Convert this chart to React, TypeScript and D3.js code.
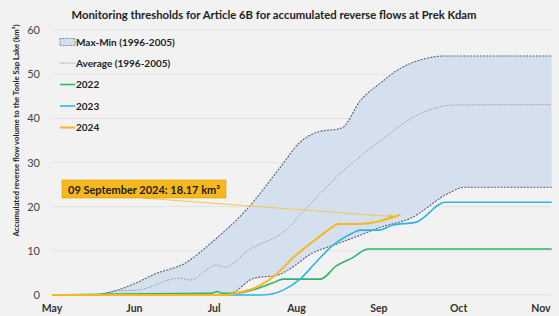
import * as d3 from 'd3';

// accumulated reverse flow (km3)
const parse = d3.timeParse('%Y-%m-%d');

const maxDates = ['05-01', '05-16', '05-25', '05-31', '06-09', '06-20', '07-01', '07-13', '07-26', '08-02', '08-09', '08-18', '08-25', '09-02', '09-08', '09-10', '09-19', '09-25', '11-05'];
const maxVals = [0, 0, 1.0, 2.3, 4.8, 7.2, 12.4, 19.2, 29, 34.4, 36.9, 37.8, 44, 48.2, 50.9, 51.6, 53.6, 54.1, 54.1];

const minDates = ['05-01', '07-05', '07-08', '07-16', '07-25', '07-29', '08-07', '08-15', '08-27', '09-01', '09-13', '09-28', '10-03', '11-05'];
const minVals = [0, 0, 0.5, 3.8, 4.5, 5.7, 9.5, 11.3, 14, 15.2, 17.4, 23.3, 24.4, 24.4];

const avgDates = ['05-01', '05-16', '05-25', '06-02', '06-18', '06-22', '07-02', '07-05', '07-14', '07-28', '08-04', '08-16', '08-28', '09-05', '09-14', '09-20', '09-29', '11-05'];
const avgVals = [0, 0, 0.9, 1.1, 3.8, 3.4, 6.8, 6.3, 10.2, 14.7, 19.2, 26.7, 32.8, 36.5, 40.3, 41.9, 43.0, 43.1];

const y2022Dates = ['05-01', '05-25', '06-30', '07-02', '07-04', '07-09', '07-23', '07-27', '08-10', '08-16', '08-22', '08-28', '11-05'];
const y2022Vals = [0, 0.2, 0.4, 0.8, 0.4, 0.4, 2.7, 3.6, 3.6, 6.6, 8.4, 10.4, 10.4];

const y2023Dates = ['05-01', '07-19', '07-27', '08-02', '08-08', '08-14', '08-22', '08-25', '09-01', '09-06', '09-15', '09-26', '11-05'];
const y2023Vals = [0, 0, 1.1, 3.4, 7.2, 10.9, 14, 14.7, 14.7, 15.8, 16.5, 21, 21];

const y2024Dates = ['05-01', '07-05', '07-09', '07-17', '07-25', '07-31', '08-07', '08-12', '08-17', '08-25', '09-09'];
const y2024Vals = [0, 0, 0.4, 1.8, 5, 8.6, 12, 14.3, 16.1, 16.1, 18.17];

const monthLabels = ['May', 'Jun', 'Jul', 'Aug', 'Sep', 'Oct', 'Nov'];
const monthDates = ['05-01', '06-01', '07-01', '08-01', '09-01', '10-01', '11-01'];
const yTicks = [0, 10, 20, 30, 40, 50, 60];

const d = (md: string) => parse('2024-' + md) as Date;
const pts = (ds: string[], vs: number[]) => ds.map((s, i) => [d(s), vs[i]] as [Date, number]);

const width = 559;
const height = 316;

const x = d3.scaleTime().domain([d('05-01'), d('11-01')]).range([52, 541]);
const y = d3.scaleLinear().domain([0, 60]).range([295, 30]);
const xEnd = x(d('11-05'));

const line = d3.line<[Date, number]>()
  .x(p => x(p[0]))
  .y(p => y(p[1]))
  .curve(d3.curveMonotoneX);

const maxPts = pts(maxDates, maxVals);
const minPts = pts(minDates, minVals);
const upper = line(maxPts) as string;
const lower = line(minPts.slice().reverse()) as string;
const bandPath = upper + 'L' + lower.slice(1) + 'Z';

const font = 'Lato, "Open Sans", sans-serif';

export default function App() {
  const endX = x(d('09-09'));
  const endY = y(18.17);
  const legend = [
    { label: '2022', color: '#2db46a', w: 1.6 },
    { label: '2023', color: '#2bb5e6', w: 1.6 },
    { label: '2024', color: '#f6b81d', w: 2 },
  ];
  return (
    <svg width={width} height={height} style={{ display: 'block', background: '#f2f2f2' }} fontFamily={font}>
      <style>{'body{margin:0}'}</style>
      <defs>
        <marker id="arr" viewBox="0 0 10 10" refX="9" refY="5" markerWidth="6" markerHeight="6" orient="auto">
          <path d="M0,1 L10,5 L0,9 Z" fill="#f6b81d" />
        </marker>
      </defs>
      <rect width={width} height={height} fill="#f2f2f2" />

      <text x={274} y={19} textAnchor="middle" fontSize={11.3} fontWeight="bold" fill="#222">
        Monitoring thresholds for Article 6B for accumulated reverse flows at Prek Kdam
      </text>

      {yTicks.map(t => (
        <g key={t}>
          {t > 0 && <line x1={52} x2={xEnd} y1={y(t)} y2={y(t)} stroke="#e3e3e3" strokeWidth={1} />}
          <text x={40} y={y(t) + 4} textAnchor="end" fontSize={11} fill="#444">{t}</text>
        </g>
      ))}
      <line x1={52} x2={xEnd} y1={y(0)} y2={y(0)} stroke="#e3e3e3" strokeWidth={1} />

      {monthLabels.map((m, i) => (
        <text key={m} x={x(d(monthDates[i]))} y={312} textAnchor="middle" fontSize={10.5} fontWeight="bold" fill="#333">{m}</text>
      ))}

      <text transform={`translate(19,${y(30) - 32}) rotate(-90)`} textAnchor="middle" fontSize={7.8} fontWeight="bold" fill="#222">
        Accumulated reverse flow volume to the Tonle Sap Lake  (km³)
      </text>

      <path d={bandPath} fill="#d5e0ef" stroke="none" />
      <path d={upper} fill="none" stroke="#5b5f6e" strokeWidth={1.1} strokeDasharray="2,1.3" />
      <path d={line(minPts) as string} fill="none" stroke="#5b5f6e" strokeWidth={1.1} strokeDasharray="2,1.3" />
      <path d={line(pts(avgDates, avgVals)) as string} fill="none" stroke="#8a8e99" strokeWidth={0.9} strokeDasharray="1.6,1.6" />

      <path d={line(pts(y2022Dates, y2022Vals)) as string} fill="none" stroke="#2db46a" strokeWidth={1.6} />
      <path d={line(pts(y2023Dates, y2023Vals)) as string} fill="none" stroke="#2bb5e6" strokeWidth={1.6} />
      <path d={line(pts(y2024Dates, y2024Vals)) as string} fill="none" stroke="#f6b81d" strokeWidth={2} />

      <line x1={143} y1={198} x2={endX - 6} y2={endY + 2} stroke="#f6c84a" strokeWidth={1} markerEnd="url(#arr)" />
      <rect x={62} y={180} width={164} height={18} fill="#f6b81d" stroke="#d79e00" strokeWidth={0.6} />
      <text x={144} y={193.5} textAnchor="middle" fontSize={11} fontWeight="bold" fill="#1e1e1e">
        09 September 2024: 18.17 km³
      </text>

      <rect x={60} y={38.5} width={15} height={7} fill="#d5e0ef" stroke="#5b6a8c" strokeWidth={0.8} strokeDasharray="1.5,1" />
      <text x={76} y={46} fontSize={10} fontWeight="bold" fill="#222">Max-Min (1996-2005)</text>
      <line x1={60} x2={75} y1={63} y2={63} stroke="#8a8e99" strokeWidth={0.9} strokeDasharray="1.6,1.2" />
      <text x={76} y={66.5} fontSize={10} fontWeight="bold" fill="#222">Average (1996-2005)</text>
      {legend.map((l, i) => (
        <g key={l.label}>
          <line x1={60} x2={75} y1={84.5 + i * 21.5} y2={84.5 + i * 21.5} stroke={l.color} strokeWidth={l.w} />
          <text x={76} y={88 + i * 21.5} fontSize={10} fontWeight="bold" fill="#222">{l.label}</text>
        </g>
      ))}
    </svg>
  );
}
